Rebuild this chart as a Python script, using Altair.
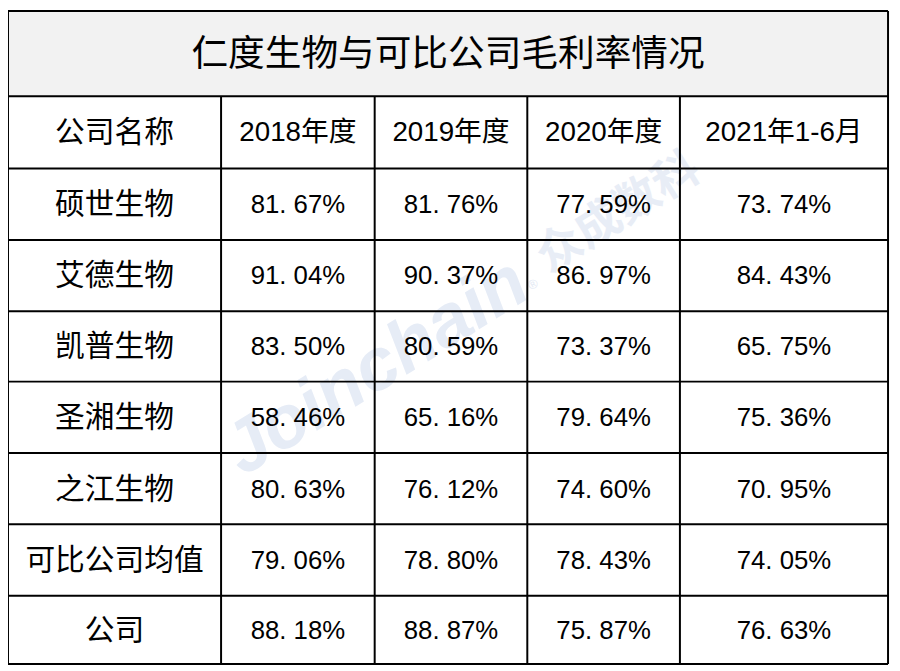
import altair as alt
import pandas as pd

# ---- data ----
title = "仁度生物与可比公司毛利率情况"
header_name = "公司名称"
periods = ["2018年度", "2019年度", "2020年度", "2021年1-6月"]
companies = ["硕世生物", "艾德生物", "凯普生物", "圣湘生物", "之江生物", "可比公司均值", "公司"]
v2018 = [81.67, 91.04, 83.50, 58.46, 80.63, 79.06, 88.18]
v2019 = [81.76, 90.37, 80.59, 65.16, 76.12, 78.80, 88.87]
v2020 = [77.59, 86.97, 73.37, 79.64, 74.60, 78.43, 75.87]
v2021 = [73.74, 84.43, 65.75, 75.36, 70.95, 74.05, 76.63]
watermark_en = "Joinchain"
watermark_cn = "众成数科"

# ---- layout (pixels) ----
W, H = 892, 663
cols = [0, 215, 370, 524, 678, 888]
rows = [0, 86, 159, 231, 303, 374, 446, 518, 590, 659]
CJK = "'Noto Sans CJK SC'"
MIX = "'Liberation Sans', 'Noto Sans CJK SC'"

X = lambda f: alt.X(f, type="quantitative", scale=None, axis=None)
Y = lambda f: alt.Y(f, type="quantitative", scale=None, axis=None)

# title background
bg = pd.DataFrame([{"x": cols[0], "x2": cols[-1], "y": rows[0], "y2": rows[1]}])
bg_layer = alt.Chart(bg).mark_rect(color="#f2f2f2").encode(
    x=X("x"), x2="x2", y=Y("y"), y2="y2")

# watermark
wm = pd.DataFrame([{"t": watermark_en, "x": 372, "y": 360}])
wm_layer = alt.Chart(wm).mark_text(
    font="'Liberation Sans'", fontWeight="bold", fontStyle="italic", fontSize=74,
    angle=328, color="#e6ecf6", align="center", baseline="middle"
).encode(x=X("x"), y=Y("y"), text="t:N")
wm2 = pd.DataFrame([{"t": watermark_cn, "x": 616, "y": 204}])
wm2_layer = alt.Chart(wm2).mark_text(
    font=CJK, fontWeight="bold", fontSize=46, angle=328, color="#e8edf6",
    align="center", baseline="middle"
).encode(x=X("x"), y=Y("y"), text="t:N")
wm3 = pd.DataFrame([{"t": "®", "x": 530, "y": 276}])
wm3_layer = alt.Chart(wm3).mark_text(
    font="'Liberation Sans'", fontSize=13, angle=328, color="#e3e9f4",
    align="center", baseline="middle"
).encode(x=X("x"), y=Y("y"), text="t:N")

# grid lines
lines = []
for r in rows:
    lines.append({"x": cols[0], "x2": cols[-1], "y": r, "y2": r})
lines.append({"x": cols[0], "x2": cols[0], "y": rows[0], "y2": rows[-1]})
lines.append({"x": cols[-1], "x2": cols[-1], "y": rows[0], "y2": rows[-1]})
for c in cols[1:-1]:
    lines.append({"x": c, "x2": c, "y": rows[1], "y2": rows[-1]})
ln = pd.DataFrame(lines)
line_layer = alt.Chart(ln).mark_rule(color="#000000", strokeWidth=2).encode(
    x=X("x"), x2="x2", y=Y("y"), y2="y2")

cx = lambda i: (cols[i] + cols[i + 1]) / 2
cy = lambda j: (rows[j] + rows[j + 1]) / 2 + 1

# title
tt = pd.DataFrame([{"t": title, "x": (cols[0] + cols[-1]) / 2, "y": cy(0) + 1}])
title_layer = alt.Chart(tt).mark_text(
    font=CJK, fontSize=37, color="#000000", align="center", baseline="middle"
).encode(x=X("x"), y=Y("y"), text="t:N")

# header row
hn = pd.DataFrame([{"t": header_name, "x": cx(0), "y": cy(1)}])
hn_layer = alt.Chart(hn).mark_text(
    font=CJK, fontSize=30, color="#000000", align="center", baseline="middle"
).encode(x=X("x"), y=Y("y"), text="t:N")
hdr = [{"t": p, "x": cx(i + 1), "y": cy(1)} for i, p in enumerate(periods)]
hdr_layer = alt.Chart(pd.DataFrame(hdr)).mark_text(
    font=MIX, fontSize=28, color="#000000", align="center", baseline="middle"
).encode(x=X("x"), y=Y("y"), text="t:N")

# company names
names = [{"t": c, "x": cx(0), "y": cy(j + 2)} for j, c in enumerate(companies)]
name_layer = alt.Chart(pd.DataFrame(names)).mark_text(
    font=CJK, fontSize=30, color="#000000", align="center", baseline="middle"
).encode(x=X("x"), y=Y("y"), text="t:N")

# values
vals = []
for i, series in enumerate([v2018, v2019, v2020, v2021]):
    for j, v in enumerate(series):
        vals.append({"t": f"{v:.2f}%".replace(".", ". "), "x": cx(i + 1), "y": cy(j + 2)})
val_layer = alt.Chart(pd.DataFrame(vals)).mark_text(
    font="'Liberation Sans'", fontSize=26, color="#000000", align="center", baseline="middle"
).encode(x=X("x"), y=Y("y"), text="t:N")

chart = alt.layer(
    bg_layer, wm_layer, wm2_layer, wm3_layer, line_layer,
    title_layer, hn_layer, hdr_layer, name_layer, val_layer
).properties(
    width=W, height=H, autosize=alt.AutoSizeParams(type="none"), padding=0,
    background="#ffffff"
).configure_view(stroke=None)

chart.save("out.html", embed_options={"renderer": "svg", "actions": False})
